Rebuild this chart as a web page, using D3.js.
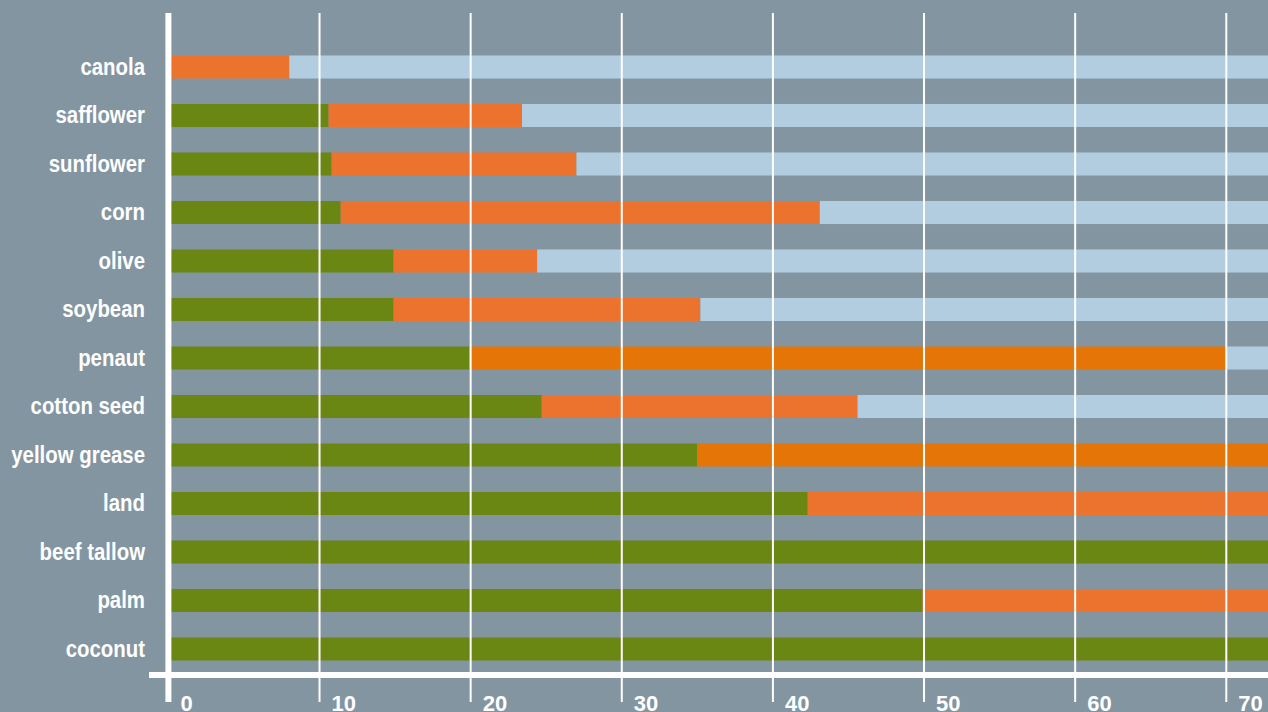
<!DOCTYPE html>
<html lang="en">
<head>
    <meta charset="UTF-8">
    <title>Fat composition of oils</title>
    <script src="https://d3js.org/d3.v7.min.js"></script>
    <style>
        html, body { margin: 0; padding: 0; background: #8395a1; }
        svg { display: block; }
        .cat-label {
            font-family: "Liberation Sans", Arial, sans-serif;
            font-weight: bold;
            font-size: 24px;
            fill: #fff;
            text-anchor: end;
        }
        .tick-label {
            font-family: "Liberation Sans", Arial, sans-serif;
            font-weight: bold;
            font-size: 22px;
            fill: #fff;
        }
    </style>
</head>
<body>
    <svg id="chart" width="1268" height="712"></svg>

    <script>
        // data (percent), sum per row ~100
        var categories = ["canola", "safflower", "sunflower", "corn", "olive", "soybean", "penaut",
            "cotton seed", "yellow grease", "land", "beef tallow", "palm", "coconut"];
        var saturated = [0, 10.6, 10.8, 11.4, 14.9, 14.9, 19.9, 24.7, 35.0, 42.3, 78, 49.9, 91];
        var mono      = [8.0, 12.8, 16.2, 31.7, 9.5, 20.3, 50.1, 20.9, 50, 45, 18, 40, 6];
        var poly      = [92.0, 76.6, 73.0, 56.9, 75.6, 64.8, 30.0, 54.4, 15, 12.7, 4, 10.1, 3];
        var tickValues = [0, 10, 20, 30, 40, 50, 60, 70];

        var keys = ["saturated", "mono", "poly"];
        var colors = { saturated: "#6a8613", mono: "#ec732d", poly: "#b3cde0" };
        var deepOrange = "#e67508";
        var deepOrangeRows = ["penaut", "yellow grease"];

        var rows = categories.map(function (c, i) {
            return { name: c, saturated: saturated[i], mono: mono[i], poly: poly[i] };
        });

        var W = 1268, H = 712;
        var svg = d3.select("#chart");

        svg.append("rect")
            .attr("width", W).attr("height", H)
            .attr("fill", "#8395a1");

        var x = d3.scaleLinear()
            .domain([0, 70])
            .range([168.4, 1226.3]);

        var y = d3.scaleBand()
            .domain(categories)
            .range([42.75, 673.25])
            .paddingInner(0.525)
            .paddingOuter(0.2625);

        var series = d3.stack().keys(keys)(rows);

        // bars
        svg.append("g")
            .selectAll("g")
            .data(series)
            .enter().append("g")
            .each(function (s) {
                d3.select(this).selectAll("rect")
                    .data(s)
                    .enter().append("rect")
                    .attr("x", function (d) { return x(d[0]); })
                    .attr("width", function (d) { return Math.max(0, x(d[1]) - x(d[0])); })
                    .attr("y", function (d) { return y(d.data.name); })
                    .attr("height", y.bandwidth())
                    .attr("fill", function (d) {
                        if (s.key === "mono" && deepOrangeRows.indexOf(d.data.name) >= 0) return deepOrange;
                        return colors[s.key];
                    });
            });

        // grid lines
        svg.append("g")
            .selectAll("line")
            .data(tickValues.filter(function (v) { return v > 0; }))
            .enter().append("line")
            .attr("x1", function (d) { return x(d); })
            .attr("x2", function (d) { return x(d); })
            .attr("y1", 13)
            .attr("y2", 702)
            .attr("stroke", "#fff")
            .attr("stroke-width", 2);

        // axis lines
        svg.append("line")
            .attr("x1", 149).attr("x2", W)
            .attr("y1", 675).attr("y2", 675)
            .attr("stroke", "#fff").attr("stroke-width", 6);

        svg.append("line")
            .attr("x1", x(0)).attr("x2", x(0))
            .attr("y1", 13).attr("y2", 702)
            .attr("stroke", "#fff").attr("stroke-width", 6);

        // tick labels (cut by the bottom edge, as in the original)
        svg.append("g")
            .selectAll("text")
            .data(tickValues)
            .enter().append("text")
            .attr("class", "tick-label")
            .attr("x", function (d) { return x(d) + 12; })
            .attr("y", 711)
            .text(function (d) { return d; });

        // category labels, squeezed to look like a condensed face
        svg.append("g")
            .selectAll("text")
            .data(categories)
            .enter().append("text")
            .attr("class", "cat-label")
            .attr("transform", function (d) {
                return "translate(145," + (y(d) + y.bandwidth() / 2 + 7.5) + ") scale(0.85,1)";
            })
            .text(function (d) { return d; });
    </script>
</body>
</html>
